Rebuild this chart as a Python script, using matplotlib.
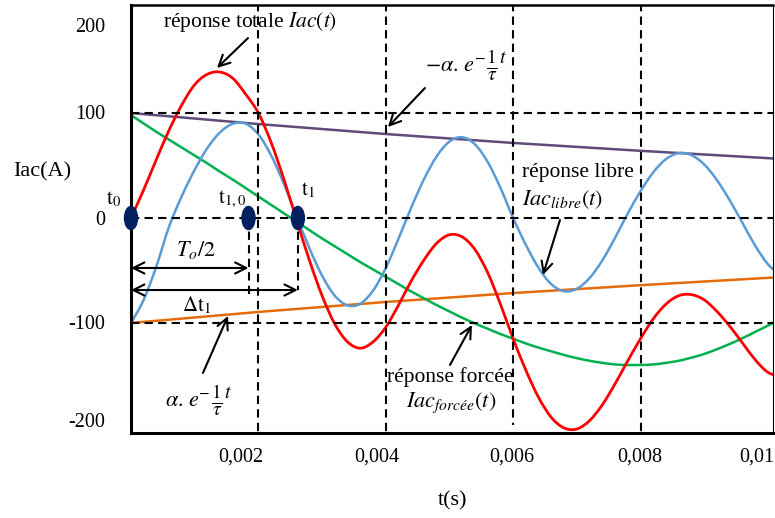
import numpy as np
import matplotlib.pyplot as plt
from matplotlib.patches import Ellipse, PathPatch
from matplotlib.path import Path

plt.rcParams['font.family'] = ['Liberation Serif', 'DejaVu Serif']
plt.rcParams['mathtext.fontset'] = 'stix'

# échantillons de temps (s), pas de 0,2 ms
t = np.arange(52) * 0.0002

# valeurs (A)
i_totale = [0, 27, 56, 84, 108, 127, 137, 139, 133, 118,
            100, 72, 37, -2, -40, -74, -101, -118, -124, -118,
            -104, -83, -60, -40, -24, -16, -18, -30, -52, -82,
            -115, -145, -171, -190, -200, -201, -193, -178, -158, -136,
            -115, -96, -82, -74, -73, -78, -89, -103, -119, -135,
            -147, -151]
i_libre = [-100.0, -77.8, -45.7, -7.8, 21.2, 45.9, 66.7, 81.7, 89.8, 89.9,
           79.6, 59.7, 32.7, 1.6, -28.6, -54.9, -74.0, -83.3, -81.6, -69.2,
           -47.7, -19.7, 9.9, 36.9, 58.8, 72.8, 76.9, 70.2, 53.4, 28.8,
           0.0, -25.6, -47.6, -63.1, -69.8, -67.4, -57.2, -40.4, -18.9, 4.4,
           25.5, 43.5, 56.1, 61.8, 59.9, 51.0, 36.1, 16.9, -4.6, -26.3,
           -44.0, -54.6]
i_forcee = [98, 90, 82, 74.5, 67, 59.5, 52, 44, 36.5, 28.5,
            20.5, 12.5, 4.5, -3.5, -11.5, -19.5, -27, -34.5, -42, -49,
            -56, -63, -70, -76.5, -83, -89, -95, -100.5, -105.5, -110.5,
            -115, -119.5, -123.5, -127, -130.5, -133.5, -136, -138, -139.5, -140,
            -140, -139.5, -138, -136, -133, -129.5, -125, -120, -114.5, -108.5,
            -102.5, -96]

# enveloppes
t_env = [0, 0.002, 0.004, 0.006, 0.008, 0.010, 0.012]
env_haut = [100, 89.5, 80, 71.5, 64, 57, 51]
env_bas = [-100, -89.5, -80, -71.5, -64, -57, -51]

# instants t0, t1,0, t1
t_points = [0, 0.001845, 0.00262]
point_labels = [r'$\mathrm{t}_0$', r'$\mathrm{t}_{1,0}$', r'$\mathrm{t}_1$']

xtick_pos = [0.00173, 0.00386, 0.00598, 0.00799, 0.00983]
xtick_labels = ['0,002', '0,004', '0,006', '0,008', '0,01']
ytick_pos = [184, 101, 0, -99, -192]
ytick_labels = ['200', '100', '0', '-100', '-200']

grid_x = [0.002, 0.004, 0.006, 0.008]
grid_x_bas = [-205, -205, -197, -205]
grid_y = [100, 0, -100]


def courbe_lissee(ax, x, y, **kw):
    # ligne lissée (Catmull-Rom -> Bézier), comme une courbe lissée Excel
    p = np.column_stack([x, y]).astype(float)
    p_ext = np.vstack([p[0], p, p[-1]])
    verts = [p[0]]
    codes = [Path.MOVETO]
    for i in range(len(p) - 1):
        p0, p1, p2, p3 = p_ext[i], p_ext[i + 1], p_ext[i + 2], p_ext[i + 3]
        verts += [p1 + (p2 - p0) / 6, p2 - (p3 - p1) / 6, p2]
        codes += [Path.CURVE4] * 3
    ax.add_patch(PathPatch(Path(verts, codes), fill=False, capstyle='round',
                           joinstyle='round', **kw))


def expo(ax, x, y, base):
    # alpha.e^(-t/tau) : la fraction est écrite à côté, en plus grand
    txt = ax.text(x, y, base + r'$^{-}$', fontsize=16, ha='left', va='baseline')
    ax.annotate(r'$\frac{1}{\tau}{}^{t}$', xy=(1, 0.62), xycoords=txt,
                xytext=(0.5, 0), textcoords='offset points',
                fontsize=20, ha='left', va='center')


fig = plt.figure(figsize=(7.75, 5.18), dpi=100)
ax = fig.add_axes([131 / 775, 85 / 518, 642 / 775, 428 / 518])

ax.plot(t_env, env_haut, color='#604A7B', lw=1.8, zorder=2)
ax.plot(t_env, env_bas, color='#E46C0A', lw=1.8, zorder=2)
courbe_lissee(ax, t, i_forcee, edgecolor='#00B050', lw=1.8, zorder=2)
courbe_lissee(ax, t, i_libre, edgecolor='#5B9BD5', lw=1.8, zorder=2)
courbe_lissee(ax, t, i_totale, edgecolor='#FF0000', lw=2.0, zorder=2)

dash = dict(color='k', lw=1.5, ls=(0, (4, 2.5)), zorder=3)
for y in grid_y:
    ax.axhline(y, **dash)
for x, yb in zip(grid_x, grid_x_bas):
    ax.plot([x, x], [205, yb], **dash)
ax.plot([t_points[1]] * 2, [0, -76], **dash)
ax.plot([t_points[2]] * 2, [0, -69], **dash)

# points marqués
for tp, lab, dx, dy in zip(t_points, point_labels, [-0.000267, -0.000259, 0.000159], [18, 18, 26]):
    ax.add_patch(Ellipse((tp, 0), 0.000204, 22, color='#002060', zorder=5, clip_on=False))
    ax.text(tp + dx, dy, lab, fontsize=15, ha='center', va='center', clip_on=False)

# flèches doubles
arr2 = dict(arrowstyle='<->', lw=1.5, color='k', mutation_scale=20, shrinkA=0, shrinkB=0)
ax.annotate('', xy=(t_points[1], -47.6), xytext=(0, -47.6), arrowprops=arr2)
ax.annotate('', xy=(t_points[2], -68.6), xytext=(0, -68.6), arrowprops=arr2)
ax.text(0.00102, -30.5, r'$T_o/2$', fontsize=16, ha='center', va='center')
ax.text(0.001036, -83, r'$\Delta\mathrm{t}_1$', fontsize=15, ha='center', va='center')

# annotations
arr = dict(arrowstyle='->', lw=1.5, color='k', mutation_scale=20, shrinkA=0, shrinkB=0)
ax.text(0.001868, 186.7, r'réponse totale $Iac(t)$', fontsize=15.5, ha='center', va='center')
ax.annotate('', xy=(0.00135, 142.9), xytext=(0.001837, 171.4), arrowprops=arr)

expo(ax, 0.004615, 139, r'$-\alpha.\,e$')
ax.annotate('', xy=(0.004034, 86.7), xytext=(0.004615, 123.8), arrowprops=arr)

ax.text(0.006138, 43.8, 'réponse libre', fontsize=15.5, ha='left', va='center')
ax.text(0.006138, 17, r'$Iac_{libre}(t)$', fontsize=16, ha='left', va='center')
ax.annotate('', xy=(0.006468, -54.3), xytext=(0.006735, -1.9), arrowprops=arr)

ax.text(0.005008, -151.4, 'réponse forcée', fontsize=15.5, ha='center', va='center')
ax.text(0.005024, -176, r'$Iac_{forcée}(t)$', fontsize=16, ha='center', va='center')
ax.annotate('', xy=(0.005353, -101.9), xytext=(0.005008, -140), arrowprops=arr)

expo(ax, 0.000534, -180, r'$\alpha.\,e$')
ax.annotate('', xy=(0.001523, -93.3), xytext=(0.00113, -147.6), arrowprops=arr)

ax.set_xlim(0, 0.01008)
ax.set_ylim(-204.8, 202.9)
ax.set_xticks(xtick_pos, xtick_labels)
ax.set_yticks(ytick_pos, ytick_labels)
ax.tick_params(length=0, labelsize=14.5)
ax.tick_params(axis='y', pad=18.7)
ax.tick_params(axis='x', pad=10.5)
for side, w in [('left', 2.2), ('bottom', 2.2), ('top', 1.8), ('right', 0.8)]:
    ax.spines[side].set_linewidth(w)

fig.text(42 / 775, 1 - 172 / 518, 'Iac(A)', fontsize=16, ha='center', va='center')
fig.text(453 / 775, 1 - 501 / 518, 't(s)', fontsize=16, ha='center', va='center')

fig.savefig('out.png', dpi=100)
